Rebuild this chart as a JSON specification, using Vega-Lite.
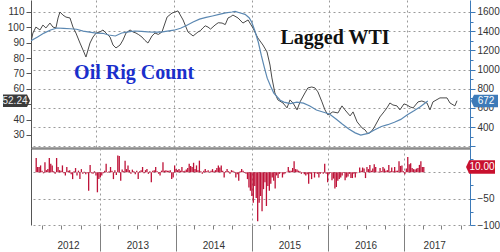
{
"$schema":"https://vega.github.io/schema/vega-lite/v6.json",
"padding":0,
"background":"white",
"spacing":0,
"config":{"view":{"stroke":null},"axis":{"labelFont":"Liberation Sans","labelFontSize":10,"labelColor":"#333333","labelOverlap":false,"labelFlush":false,"title":null}},
"resolve":{"scale":{"x":"independent","y":"independent"}},
"datasets":{
"wti":[
{"d":"2012-03-01","v":90.5},{"d":"2012-03-10","v":96.3},{"d":"2012-03-24","v":100.2},{"d":"2012-04-12","v":98.3},{"d":"2012-04-26","v":101.5},{"d":"2012-05-10","v":99.6},{"d":"2012-05-29","v":102.8},{"d":"2012-06-12","v":100.2},{"d":"2012-06-26","v":99.6},{"d":"2012-07-06","v":106.1},{"d":"2012-07-15","v":110},{"d":"2012-07-29","v":108},{"d":"2012-08-12","v":106.7},{"d":"2012-08-31","v":106.1},{"d":"2012-09-14","v":100.2},{"d":"2012-09-28","v":96.3},{"d":"2012-10-17","v":89.8},{"d":"2012-10-31","v":85.3},{"d":"2012-11-14","v":80.7},{"d":"2012-12-03","v":89.8},{"d":"2012-12-17","v":93.7},
{"d":"2013-01-01","v":96.3},{"d":"2013-01-19","v":97},{"d":"2013-02-02","v":98.3},{"d":"2013-02-16","v":96.3},{"d":"2013-03-07","v":93.7},{"d":"2013-03-21","v":88.5},{"d":"2013-04-04","v":86.6},{"d":"2013-04-23","v":88.5},{"d":"2013-05-07","v":91.8},{"d":"2013-05-21","v":96.3},{"d":"2013-06-09","v":98.3},{"d":"2013-06-23","v":97},{"d":"2013-07-07","v":96.3},{"d":"2013-07-20","v":95.2},{"d":"2013-08-04","v":93.7},{"d":"2013-08-18","v":91.5},{"d":"2013-09-01","v":89.8},{"d":"2013-09-20","v":94.4},{"d":"2013-10-04","v":96.3},{"d":"2013-10-20","v":95.4},{"d":"2013-11-06","v":97},{"d":"2013-11-30","v":106.7},{"d":"2013-12-23","v":109.3},
{"d":"2014-01-20","v":110.7},{"d":"2014-02-13","v":104.8},{"d":"2014-03-08","v":97},{"d":"2014-04-01","v":94.4},{"d":"2014-04-24","v":97},{"d":"2014-05-05","v":97.8},{"d":"2014-05-17","v":99.6},{"d":"2014-05-28","v":101},{"d":"2014-06-10","v":100.2},{"d":"2014-06-22","v":98.9},{"d":"2014-07-13","v":101.5},{"d":"2014-07-28","v":103},{"d":"2014-08-15","v":102.8},{"d":"2014-08-30","v":101.8},{"d":"2014-09-12","v":106.1},{"d":"2014-09-25","v":107},{"d":"2014-10-05","v":108},{"d":"2014-10-29","v":106.1},{"d":"2014-11-21","v":102.8},{"d":"2014-12-15","v":104.8},
{"d":"2015-01-07","v":99.6},{"d":"2015-01-30","v":93.1},{"d":"2015-02-23","v":88.5},{"d":"2015-03-14","v":84},{"d":"2015-03-28","v":75.5},{"d":"2015-04-06","v":67.1},{"d":"2015-04-20","v":57.3},{"d":"2015-05-04","v":52.8},{"d":"2015-05-28","v":50.8},{"d":"2015-06-16","v":47.6},{"d":"2015-06-30","v":52.8},{"d":"2015-07-14","v":50.8},{"d":"2015-08-02","v":46.3},{"d":"2015-08-16","v":51.5},{"d":"2015-09-08","v":57.3},{"d":"2015-09-22","v":60.6},{"d":"2015-10-10","v":61.2},{"d":"2015-10-25","v":60.6},{"d":"2015-11-08","v":58},{"d":"2015-11-27","v":51.5},{"d":"2015-12-11","v":46.3},{"d":"2015-12-25","v":43},
{"d":"2016-01-17","v":45},{"d":"2016-02-10","v":44.3},{"d":"2016-02-29","v":48.9},{"d":"2016-03-14","v":46.3},{"d":"2016-04-07","v":42.4},{"d":"2016-04-21","v":45},{"d":"2016-05-10","v":38.5},{"d":"2016-06-02","v":34.6},{"d":"2016-06-16","v":33.3},{"d":"2016-06-30","v":30.7},{"d":"2016-07-14","v":32},{"d":"2016-07-28","v":34.6},{"d":"2016-08-25","v":41.7},{"d":"2016-09-13","v":45},{"d":"2016-09-27","v":47.6},{"d":"2016-10-11","v":50.8},{"d":"2016-10-25","v":49.5},{"d":"2016-11-13","v":48.9},{"d":"2016-11-27","v":46.3},{"d":"2016-12-16","v":50.2},{"d":"2016-12-30","v":49.5},
{"d":"2017-01-14","v":48.2},{"d":"2017-01-28","v":47.6},{"d":"2017-02-20","v":51.5},{"d":"2017-03-10","v":52.1},{"d":"2017-04-03","v":50.8},{"d":"2017-04-17","v":46.3},{"d":"2017-05-01","v":51.5},{"d":"2017-06-03","v":54.1},{"d":"2017-07-06","v":54.1},{"d":"2017-07-20","v":50.8},{"d":"2017-08-12","v":48.9},{"d":"2017-08-22","v":52.24}
],
"rig":[
{"d":"2012-03-01","v":1300},{"d":"2012-04-01","v":1340},{"d":"2012-05-01","v":1380},{"d":"2012-06-01","v":1412},{"d":"2012-07-01","v":1433},{"d":"2012-08-01","v":1430},{"d":"2012-09-01","v":1425},{"d":"2012-10-01","v":1420},{"d":"2012-11-01","v":1400},{"d":"2012-12-01","v":1390},
{"d":"2013-01-01","v":1380},{"d":"2013-02-01","v":1378},{"d":"2013-03-01","v":1360},{"d":"2013-04-01","v":1350},{"d":"2013-05-01","v":1381},{"d":"2013-06-01","v":1392},{"d":"2013-07-01","v":1402},{"d":"2013-08-01","v":1397},{"d":"2013-09-01","v":1392},{"d":"2013-10-01","v":1390},{"d":"2013-11-01","v":1390},{"d":"2013-12-01","v":1400},
{"d":"2014-01-01","v":1410},{"d":"2014-02-01","v":1430},{"d":"2014-03-01","v":1460},{"d":"2014-04-01","v":1495},{"d":"2014-05-01","v":1525},{"d":"2014-06-01","v":1543},{"d":"2014-07-01","v":1558},{"d":"2014-08-01","v":1575},{"d":"2014-09-01","v":1590},{"d":"2014-10-01","v":1600},{"d":"2014-10-15","v":1607},{"d":"2014-11-01","v":1595},{"d":"2014-12-01","v":1575},{"d":"2014-12-20","v":1540},
{"d":"2015-01-01","v":1495},{"d":"2015-01-15","v":1410},{"d":"2015-02-01","v":1287},{"d":"2015-02-15","v":1150},{"d":"2015-03-01","v":1026},{"d":"2015-03-15","v":910},{"d":"2015-04-01","v":820},{"d":"2015-04-15","v":755},{"d":"2015-05-01","v":715},{"d":"2015-05-15","v":680},{"d":"2015-06-01","v":660},{"d":"2015-07-01","v":645},{"d":"2015-08-01","v":660},{"d":"2015-09-01","v":650},{"d":"2015-10-01","v":620},{"d":"2015-11-01","v":578},{"d":"2015-12-01","v":557},
{"d":"2016-01-01","v":536},{"d":"2016-02-01","v":485},{"d":"2016-03-01","v":432},{"d":"2016-04-01","v":380},{"d":"2016-05-01","v":340},{"d":"2016-05-27","v":316},{"d":"2016-07-01","v":335},{"d":"2016-08-01","v":372},{"d":"2016-09-01","v":406},{"d":"2016-10-01","v":425},{"d":"2016-11-01","v":450},{"d":"2016-12-01","v":480},
{"d":"2017-01-01","v":529},{"d":"2017-02-01","v":570},{"d":"2017-03-01","v":610},{"d":"2017-04-07","v":672}
],
"chg":[
{"d":"2012-03-02","c":27},{"d":"2012-03-09","c":10},{"d":"2012-03-16","c":10},{"d":"2012-03-23","c":13},{"d":"2012-03-30","c":3},{"d":"2012-04-06","c":-2},{"d":"2012-04-13","c":19},{"d":"2012-04-20","c":4},{"d":"2012-04-27","c":6},{"d":"2012-05-04","c":27},{"d":"2012-05-11","c":16},{"d":"2012-05-18","c":13},{"d":"2012-05-25","c":2},{"d":"2012-06-01","c":-3},{"d":"2012-06-08","c":27},{"d":"2012-06-15","c":10},{"d":"2012-06-22","c":4},{"d":"2012-06-29","c":3},{"d":"2012-07-06","c":13},{"d":"2012-07-13","c":-2},{"d":"2012-07-20","c":-6},{"d":"2012-07-27","c":10},{"d":"2012-08-03","c":3},{"d":"2012-08-10","c":4},{"d":"2012-08-17","c":-4},{"d":"2012-08-24","c":-13},{"d":"2012-08-31","c":2},{"d":"2012-09-07","c":8},{"d":"2012-09-14","c":-6},{"d":"2012-09-21","c":3},{"d":"2012-09-28","c":-13},{"d":"2012-10-05","c":6},{"d":"2012-10-12","c":-3},{"d":"2012-10-19","c":1},{"d":"2012-10-26","c":-4},{"d":"2012-11-02","c":-2},{"d":"2012-11-09","c":-35},{"d":"2012-11-16","c":14},{"d":"2012-11-23","c":-2},{"d":"2012-11-30","c":-3},{"d":"2012-12-07","c":2},{"d":"2012-12-14","c":-6},{"d":"2012-12-21","c":-38},{"d":"2012-12-28","c":-13},
{"d":"2013-01-04","c":-10},{"d":"2013-01-11","c":-6},{"d":"2013-01-18","c":-2},{"d":"2013-01-25","c":3},{"d":"2013-02-01","c":16},{"d":"2013-02-08","c":-1},{"d":"2013-02-15","c":2},{"d":"2013-02-22","c":10},{"d":"2013-03-01","c":3},{"d":"2013-03-08","c":-13},{"d":"2013-03-15","c":4},{"d":"2013-03-22","c":-5},{"d":"2013-03-29","c":32},{"d":"2013-04-05","c":31},{"d":"2013-04-12","c":-16},{"d":"2013-04-19","c":5},{"d":"2013-04-26","c":2},{"d":"2013-05-03","c":22},{"d":"2013-05-10","c":6},{"d":"2013-05-17","c":13},{"d":"2013-05-24","c":4},{"d":"2013-05-31","c":-3},{"d":"2013-06-07","c":5},{"d":"2013-06-14","c":2},{"d":"2013-06-21","c":-4},{"d":"2013-06-28","c":3},{"d":"2013-07-05","c":-13},{"d":"2013-07-12","c":2},{"d":"2013-07-19","c":4},{"d":"2013-07-26","c":10},{"d":"2013-08-02","c":-2},{"d":"2013-08-09","c":4},{"d":"2013-08-16","c":6},{"d":"2013-08-23","c":-3},{"d":"2013-08-30","c":2},{"d":"2013-09-06","c":-19},{"d":"2013-09-13","c":3},{"d":"2013-09-20","c":4},{"d":"2013-09-27","c":10},{"d":"2013-10-04","c":2},{"d":"2013-10-11","c":-3},{"d":"2013-10-18","c":-6},{"d":"2013-10-25","c":3},{"d":"2013-11-01","c":19},{"d":"2013-11-08","c":3},{"d":"2013-11-15","c":4},{"d":"2013-11-22","c":3},{"d":"2013-11-29","c":3},{"d":"2013-12-06","c":4},{"d":"2013-12-13","c":-13},{"d":"2013-12-20","c":-10},{"d":"2013-12-27","c":13},
{"d":"2014-01-03","c":6},{"d":"2014-01-10","c":4},{"d":"2014-01-17","c":6},{"d":"2014-01-24","c":3},{"d":"2014-01-31","c":10},{"d":"2014-02-07","c":2},{"d":"2014-02-14","c":3},{"d":"2014-02-21","c":5},{"d":"2014-02-28","c":8},{"d":"2014-03-07","c":16},{"d":"2014-03-14","c":12},{"d":"2014-03-21","c":10},{"d":"2014-03-28","c":18},{"d":"2014-04-04","c":6},{"d":"2014-04-11","c":13},{"d":"2014-04-18","c":4},{"d":"2014-04-25","c":22},{"d":"2014-05-02","c":2},{"d":"2014-05-09","c":-3},{"d":"2014-05-16","c":3},{"d":"2014-05-23","c":6},{"d":"2014-05-30","c":2},{"d":"2014-06-06","c":4},{"d":"2014-06-13","c":1},{"d":"2014-06-20","c":3},{"d":"2014-06-27","c":6},{"d":"2014-07-04","c":2},{"d":"2014-07-11","c":4},{"d":"2014-07-18","c":8},{"d":"2014-07-25","c":13},{"d":"2014-08-01","c":9},{"d":"2014-08-08","c":13},{"d":"2014-08-15","c":3},{"d":"2014-08-22","c":-10},{"d":"2014-08-29","c":2},{"d":"2014-09-05","c":6},{"d":"2014-09-12","c":2},{"d":"2014-09-19","c":-3},{"d":"2014-09-26","c":4},{"d":"2014-10-03","c":3},{"d":"2014-10-10","c":1},{"d":"2014-10-17","c":-10},{"d":"2014-10-24","c":-4},{"d":"2014-10-31","c":-16},{"d":"2014-11-07","c":2},{"d":"2014-11-14","c":6},{"d":"2014-11-21","c":3},{"d":"2014-11-28","c":-1},{"d":"2014-12-05","c":-3},{"d":"2014-12-12","c":-13},{"d":"2014-12-19","c":-29},{"d":"2014-12-26","c":-35},
{"d":"2015-01-02","c":-45},{"d":"2015-01-09","c":-58},{"d":"2015-01-16","c":-26},{"d":"2015-01-23","c":-49},{"d":"2015-01-30","c":-93},{"d":"2015-02-06","c":-58},{"d":"2015-02-13","c":-45},{"d":"2015-02-20","c":-74},{"d":"2015-02-27","c":-32},{"d":"2015-03-06","c":-19},{"d":"2015-03-13","c":-64},{"d":"2015-03-20","c":-26},{"d":"2015-03-27","c":-35},{"d":"2015-04-03","c":-22},{"d":"2015-04-10","c":-10},{"d":"2015-04-17","c":-16},{"d":"2015-04-24","c":-31},{"d":"2015-05-01","c":-6},{"d":"2015-05-08","c":-11},{"d":"2015-05-15","c":-3},{"d":"2015-05-22","c":-1},{"d":"2015-05-29","c":-10},{"d":"2015-06-05","c":-4},{"d":"2015-06-12","c":-2},{"d":"2015-06-19","c":1},{"d":"2015-06-26","c":10},{"d":"2015-07-03","c":3},{"d":"2015-07-10","c":3},{"d":"2015-07-17","c":8},{"d":"2015-07-24","c":21},{"d":"2015-07-31","c":6},{"d":"2015-08-07","c":5},{"d":"2015-08-14","c":3},{"d":"2015-08-21","c":2},{"d":"2015-08-28","c":-3},{"d":"2015-09-04","c":-1},{"d":"2015-09-11","c":-4},{"d":"2015-09-18","c":-6},{"d":"2015-09-25","c":-4},{"d":"2015-10-02","c":-22},{"d":"2015-10-09","c":-3},{"d":"2015-10-16","c":-13},{"d":"2015-10-23","c":-1},{"d":"2015-10-30","c":-10},{"d":"2015-11-06","c":-2},{"d":"2015-11-13","c":-3},{"d":"2015-11-20","c":-10},{"d":"2015-11-27","c":-3},{"d":"2015-12-04","c":-1},{"d":"2015-12-11","c":-3},{"d":"2015-12-18","c":16},{"d":"2015-12-25","c":-3},
{"d":"2016-01-01","c":-19},{"d":"2016-01-08","c":-4},{"d":"2016-01-15","c":-1},{"d":"2016-01-22","c":-15},{"d":"2016-01-29","c":-12},{"d":"2016-02-05","c":-31},{"d":"2016-02-12","c":-28},{"d":"2016-02-19","c":-16},{"d":"2016-02-26","c":-13},{"d":"2016-03-04","c":-10},{"d":"2016-03-11","c":-6},{"d":"2016-03-18","c":-1},{"d":"2016-03-25","c":-15},{"d":"2016-04-01","c":-10},{"d":"2016-04-08","c":-8},{"d":"2016-04-15","c":-3},{"d":"2016-04-22","c":-11},{"d":"2016-04-29","c":-11},{"d":"2016-05-06","c":-3},{"d":"2016-05-13","c":-10},{"d":"2016-05-20","c":-2},{"d":"2016-05-27","c":0},{"d":"2016-06-03","c":9},{"d":"2016-06-10","c":3},{"d":"2016-06-17","c":9},{"d":"2016-06-24","c":7},{"d":"2016-07-01","c":-11},{"d":"2016-07-08","c":10},{"d":"2016-07-15","c":6},{"d":"2016-07-22","c":14},{"d":"2016-07-29","c":3},{"d":"2016-08-05","c":7},{"d":"2016-08-12","c":15},{"d":"2016-08-19","c":10},{"d":"2016-08-26","c":1},{"d":"2016-09-02","c":1},{"d":"2016-09-09","c":8},{"d":"2016-09-16","c":2},{"d":"2016-09-23","c":10},{"d":"2016-09-30","c":7},{"d":"2016-10-07","c":3},{"d":"2016-10-14","c":4},{"d":"2016-10-21","c":14},{"d":"2016-10-28","c":2},{"d":"2016-11-04","c":9},{"d":"2016-11-11","c":2},{"d":"2016-11-18","c":10},{"d":"2016-11-25","c":3},{"d":"2016-12-02","c":3},{"d":"2016-12-09","c":21},{"d":"2016-12-16","c":12},{"d":"2016-12-23","c":13},{"d":"2016-12-30","c":2},
{"d":"2017-01-06","c":-4},{"d":"2017-01-13","c":7},{"d":"2017-01-20","c":29},{"d":"2017-01-27","c":15},{"d":"2017-02-03","c":17},{"d":"2017-02-10","c":8},{"d":"2017-02-17","c":6},{"d":"2017-02-24","c":5},{"d":"2017-03-03","c":7},{"d":"2017-03-10","c":8},{"d":"2017-03-17","c":14},{"d":"2017-03-24","c":21},{"d":"2017-03-31","c":10},{"d":"2017-04-07","c":10}
]
},
"vconcat":[
{
"width":439,"height":148,
"encoding":{"x":{"field":"d","type":"temporal",
 "scale":{"domain":[{"year":2012,"month":3,"date":1},{"year":2017,"month":10,"date":22}]},
 "axis":{"orient":"bottom","values":[{"year":2013,"month":1,"date":1},{"year":2014,"month":1,"date":1},{"year":2015,"month":1,"date":1},{"year":2016,"month":1,"date":1},{"year":2017,"month":1,"date":1}],
  "labels":false,"ticks":false,"grid":true,"gridColor":"#9a9a9a","gridDash":[2,3],"gridWidth":1,"domainColor":"#8c8c8c","domainWidth":2.5}}},
"layer":[
 {"encoding":{"y":{"field":"v","type":"quantitative","scale":{"domain":[21.5,117.8],"nice":false,"zero":false},
   "axis":{"orient":"left","values":[30,40,50,60,70,80,90,100,110],"labelExpr":"datum.value == 50 ? '' : datum.label","grid":false,"domainColor":"#555555","tickColor":"#555555","tickSize":5,"labelPadding":2,"minExtent":31}}},
  "layer":[
   {"data":{"name":"wti"},"mark":{"type":"line","color":"#4a4a4a","strokeWidth":1,"clip":true}},
   {"data":{"values":[{"d":"2013-06-28","v":70.3,"t":"Oil Rig Count"}]},"mark":{"type":"text","font":"Liberation Serif","fontWeight":"bold","fontSize":20,"color":"#1a2fcc"},"encoding":{"text":{"field":"t"}}},
   {"data":{"values":[{"d":"2016-01-27","v":93.1,"t":"Lagged WTI"}]},"mark":{"type":"text","font":"Liberation Serif","fontWeight":"bold","fontSize":20,"color":"#111111"},"encoding":{"text":{"field":"t"}}},
   {"data":{"values":[{"d":"2012-03-01","v":52.24,"t":"52.24"}]},"mark":{"type":"point","shape":"M-1,-0.46L0.78,-0.46L1,0L0.78,0.46L-1,0.46Z","filled":true,"size":729,"color":"#3b3b3b","opacity":1,"xOffset":-14.5}},
   {"data":{"values":[{"d":"2012-03-01","v":52.24,"t":"52.24"}]},"mark":{"type":"text","color":"#eeeeee","fontSize":10,"font":"Liberation Sans","xOffset":-16},"encoding":{"text":{"field":"t"}}}
  ]},
 {"encoding":{"y":{"field":"v","type":"quantitative","scale":{"domain":[182,1725],"nice":false,"zero":false},
   "axis":{"orient":"right","values":[200,300,400,500,600,700,800,900,1000,1100,1200,1300,1400,1500,1600],"format":"d",
    "labelExpr":"datum.value % 200 == 0 && datum.value >= 400 ? datum.label : ''",
    "labelFontSize":{"condition":{"test":"datum.value % 200 == 0 && datum.value >= 400","value":10},"value":0},
    "grid":true,"gridOpacity":{"condition":{"test":"datum.value % 200 == 0","value":1},"value":0},"gridColor":"#9a9a9a","gridDash":[2,3],
    "tickSize":{"condition":{"test":"datum.value % 200 == 0","value":5},"value":3},
    "domainColor":"#3d7ab8","tickColor":"#3d7ab8","labelPadding":2}}},
  "layer":[
   {"data":{"name":"rig"},"mark":{"type":"line","color":"#5b88b2","strokeWidth":1.2,"clip":true}},
   {"data":{"values":[{"d":"2017-10-22","v":672,"t":"672"}]},"mark":{"type":"point","shape":"M1,-0.46L-0.78,-0.46L-1,0L-0.78,0.46L1,0.46Z","filled":true,"size":729,"color":"#3d7ab8","opacity":1,"xOffset":14.5}},
   {"data":{"values":[{"d":"2017-10-22","v":672,"t":"672"}]},"mark":{"type":"text","color":"#ffffff","fontSize":10,"font":"Liberation Sans","xOffset":16},"encoding":{"text":{"field":"t"}}}
  ]}
],
"resolve":{"scale":{"y":"independent"}}
},
{
"width":439,"height":77,
"encoding":{"x":{"field":"d","type":"temporal",
 "scale":{"domain":[{"year":2012,"month":3,"date":1},{"year":2017,"month":10,"date":22}]},
 "axis":{"orient":"bottom","values":[
  {"year":2012,"month":4,"date":1},{"year":2012,"month":7,"date":1},{"year":2012,"month":8,"date":2},{"year":2012,"month":10,"date":1},
  {"year":2013,"month":1,"date":1},{"year":2013,"month":4,"date":1},{"year":2013,"month":7,"date":1},{"year":2013,"month":10,"date":1},
  {"year":2014,"month":1,"date":1},{"year":2014,"month":4,"date":1},{"year":2014,"month":7,"date":1},{"year":2014,"month":10,"date":1},
  {"year":2015,"month":1,"date":1},{"year":2015,"month":4,"date":1},{"year":2015,"month":7,"date":1},{"year":2015,"month":10,"date":1},
  {"year":2016,"month":1,"date":1},{"year":2016,"month":4,"date":1},{"year":2016,"month":7,"date":1},{"year":2016,"month":10,"date":1},
  {"year":2017,"month":1,"date":1},{"year":2017,"month":4,"date":1},{"year":2017,"month":5,"date":27},{"year":2017,"month":7,"date":1},{"year":2017,"month":10,"date":1}],
  "labelExpr":"date(datum.value) != 1 || (month(datum.value) == 6 && year(datum.value) > 2012 && year(datum.value) < 2017) ? timeFormat(datum.value, '%Y') : ''",
  "tickOpacity":{"condition":{"test":"date(datum.value) == 1","value":1},"value":0},
  "tickSize":{"condition":{"test":"month(datum.value) == 0 && date(datum.value) == 1","value":26},"value":4},
  "tickColor":"#808080","grid":true,
  "gridOpacity":{"condition":{"test":"month(datum.value) == 0 && date(datum.value) == 1","value":1},"value":0},
  "gridDash":[2,3],"gridColor":"#9a9a9a","domain":false,"labelPadding":11}}},
"layer":[
 {"data":{"name":"chg"},"mark":{"type":"bar","color":"#be1238","width":1.3},
  "encoding":{"y":{"field":"c","type":"quantitative","scale":{"domain":[-100,46],"nice":false},
   "axis":{"orient":"right","values":[-100,-75,-50,-25,0,25],"labelExpr":"datum.value == -50 || datum.value == -100 ? datum.label : ''",
    "labelFontSize":{"condition":{"test":"datum.value == -50 || datum.value == -100","value":10},"value":0},
    "grid":true,"gridOpacity":{"condition":{"test":"datum.value % 50 == 0","value":1},"value":0},"gridDash":[2,3],"gridColor":"#9a9a9a",
    "tickSize":{"condition":{"test":"datum.value % 50 == 0","value":5},"value":3},
    "domainColor":"#3d7ab8","tickColor":"#3d7ab8","labelPadding":2}}}},
 {"data":{"values":[{"d":"2017-10-22","c":10,"t":"10.00"}]},
  "encoding":{"y":{"field":"c","type":"quantitative","axis":{"orient":"left","labels":false,"ticks":false,"grid":false,"domainColor":"#555555"}}},
  "layer":[
   {"mark":{"type":"point","shape":"M1,-0.46L-0.78,-0.46L-1,0L-0.78,0.46L1,0.46Z","filled":true,"size":841,"color":"#c8102e","opacity":1,"xOffset":15.5}},
   {"mark":{"type":"text","color":"#ffffff","fontSize":10,"font":"Liberation Sans","xOffset":17},"encoding":{"text":{"field":"t"}}}
  ]}
],
"resolve":{"axis":{"y":"independent"}}
}
]
}
